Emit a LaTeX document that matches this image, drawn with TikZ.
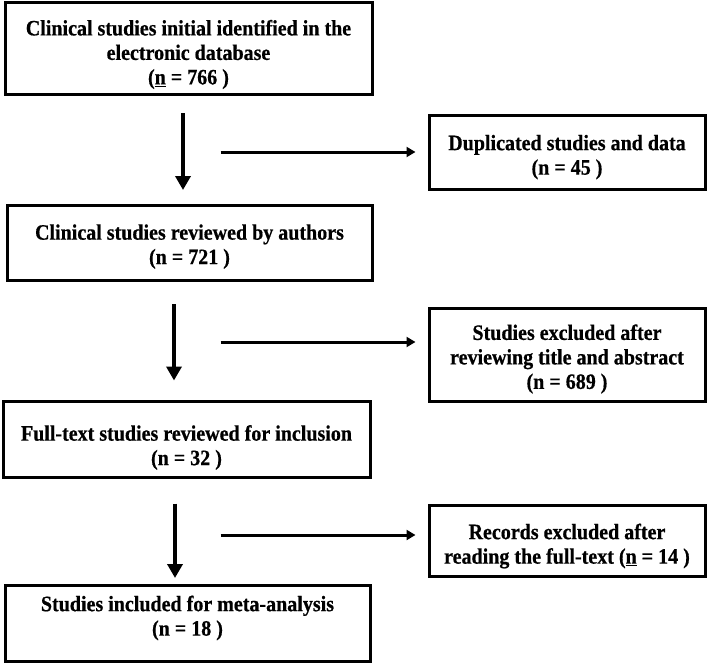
\documentclass[tikz,border=0pt]{standalone}
\usepackage{fontspec}
\setmainfont{Liberation Serif}[FakeStretch=0.91, BoldFeatures={FakeBold=0.6}]
\usetikzlibrary{arrows.meta}
\newcommand{\boxtext}[2]{\raisebox{#1}[\height][\depth]{\begin{tabular}{@{}c@{}}#2\end{tabular}}}
\tikzset{
  flowbox/.style={draw=black, line width=3pt, inner sep=0pt,
    font=\fontsize{22}{24.5}\selectfont\bfseries, text=black},
  varr/.style={line width=4pt, -{Triangle[length=14pt,width=15pt]}},
  harr/.style={line width=3pt, -{Triangle[length=9pt,width=10pt]}}
}
\renewcommand{\arraystretch}{1}
\begin{document}
\begin{tikzpicture}[x=1pt,y=-1pt]
\useasboundingbox (0,0) rectangle (709,666);
\node[flowbox, minimum width=367pt, minimum height=92pt] (b1) at (188.5,49)
  {\boxtext{-6pt}{Clinical studies initial identified in the\\electronic database\\(\underline{n} = 766 )}};
\node[flowbox, minimum width=365pt, minimum height=75pt] (b2) at (189.5,243)
  {\boxtext{-4pt}{Clinical studies reviewed by authors\\(n = 721 )}};
\node[flowbox, minimum width=367pt, minimum height=76pt] (b3) at (186.5,439)
  {\boxtext{-9pt}{Full-text studies reviewed for inclusion\\(n = 32 )}};
\node[flowbox, minimum width=365pt, minimum height=76pt] (b4) at (187.5,623.5)
  {\boxtext{5pt}{Studies included for meta-analysis\\(n = 18 )}};
\node[flowbox, minimum width=276pt, minimum height=73pt] (dup) at (567,152.5)
  {\boxtext{-5pt}{Duplicated studies and data\\(n = 45 )}};
\node[flowbox, minimum width=276pt, minimum height=93pt] (exc) at (567,354.5)
  {\boxtext{-5pt}{Studies excluded after\\reviewing title and abstract\\(n = 689 )}};
\node[flowbox, minimum width=276pt, minimum height=71pt] (rec) at (567,540.5)
  {\boxtext{-6pt}{Records excluded after\\reading the full-text (\underline{n} = 14 )}};
% vertical arrows
\draw[varr] ([xshift=-5.5pt,yshift=-17pt]b1.south) -- ([xshift=-6.5pt,yshift=14pt]b2.north);
\draw[varr] ([xshift=-15.5pt,yshift=-22pt]b2.south) -- ([xshift=-12.5pt,yshift=19pt]b3.north);
\draw[varr] ([xshift=-11.5pt,yshift=-25pt]b3.south) -- ([xshift=-12.5pt,yshift=6pt]b4.north);
% horizontal arrows
\draw[harr] ([xshift=-207pt,yshift=0.5pt]dup.west) -- ([xshift=-12pt,yshift=0.5pt]dup.west);
\draw[harr] ([xshift=-207pt,yshift=12.5pt]exc.west) -- ([xshift=-12pt,yshift=12.5pt]exc.west);
\draw[harr] ([xshift=-207pt,yshift=5.5pt]rec.west) -- ([xshift=-12pt,yshift=5.5pt]rec.west);
\end{tikzpicture}
\end{document}
